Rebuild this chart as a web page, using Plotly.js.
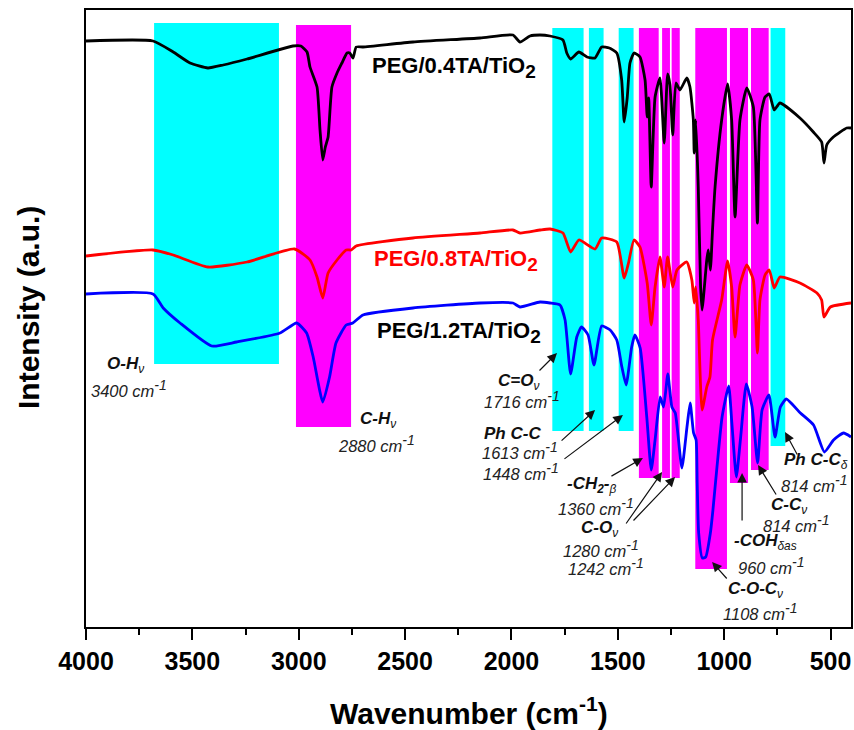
<!DOCTYPE html>
<html>
<head>
<meta charset="utf-8">
<script src="https://cdn.plot.ly/plotly-3.0.1.min.js"></script>
<style>html,body{margin:0;padding:0;background:#fff;}#chart{width:854px;height:730px;}</style>
</head>
<body>
<div id="chart"></div>
<script>
// ---- Data (wavenumber in cm-1, intensity in arbitrary units, offset spectra) ----
const seriesNames = ["PEG/0.4TA/TiO2", "PEG/0.8TA/TiO2", "PEG/1.2TA/TiO2"];

const wnBlack = [4000,3685,3590,3511,3427,3355,3243,3027,2990,2961,2947,2914,2900,2887,2875,2862,2844,2820,2797,2773,2760,2745,2730,2698,2463,2148,1993,1960,1913,1866,1819,1758,1740,1722,1683,1645,1607,1576,1540,1505,1482,1470,1456,1443,1424,1396,1372,1362,1355,1343,1325,1302,1282,1266,1255,1242,1227,1208,1176,1161,1145,1141,1134,1122,1111,1104,1082,1075,1065,1055,1043,1012,984,965,949,926,894,863,844,832,808,788,765,738,644,581,542,531,518,487,424,404];
const intBlack = [586,586,575,564,559,562,568,581,581,575,560,540,497,467,480,490,540,554,564,574,574,569,580,580,585,589,592,585,591,592,591,587,574,568,575,570,569,580,579,574,547,505,529,564,574,570,547,510,529,440,530,549,484,553,542,492,544,537,549,540,507,474,507,440,340,317,367,377,357,397,440,507,543,507,410,507,539,520,404,507,530,533,517,524,509,495,485,464,482,490,499,499];

const wnRed = [4000,3685,3590,3427,3243,3020,2947,2914,2887,2862,2820,2777,2753,2730,2463,2148,1993,1960,1866,1819,1758,1722,1683,1607,1576,1505,1470,1450,1424,1396,1362,1343,1325,1302,1282,1266,1242,1222,1176,1152,1141,1134,1122,1104,1082,1067,1055,1012,984,965,949,926,894,863,844,832,808,788,765,738,644,564,542,531,501,404];
const intRed = [371,377,372,360,365,378,367,350,329,354,367,377,377,381,389,394,397,394,397,398,394,375,387,378,389,385,349,364,387,380,344,302,340,370,340,370,340,357,365,347,324,340,307,217,240,250,287,327,366,340,290,342,362,347,274,327,352,357,339,350,344,334,327,310,320,324];

const wnBlue = [4000,3685,3637,3558,3409,3292,3088,3010,2963,2932,2887,2855,2825,2777,2746,2698,2463,2148,1993,1960,1866,1819,1772,1748,1722,1693,1671,1640,1612,1576,1536,1505,1481,1461,1435,1420,1395,1364,1343,1325,1301,1285,1265,1246,1230,1199,1175,1160,1144,1132,1127,1120,1103,1087,1065,1053,1034,1010,979,964,943,924,896,869,843,822,790,761,736,708,642,580,529,486,439,404];
const intBlue = [333,333,319,304,281,285,294,304,294,270,225,250,284,302,304,312,319,324,324,320,325,324,322,307,253,290,300,292,262,301,297,287,260,242,280,292,279,210,157,187,230,220,253,220,214,159,200,224,194,187,144,94,69,70,94,117,160,210,241,204,150,187,243,220,164,217,232,190,220,228,214,202,175,187,194,190];

// highlighted assignment bands (wavenumber range, vertical extent in intensity units, group)
const bandFrom   = [3680,3013,1808,1636,1496,1401,1292,1247,1136,973,874,782];
const bandTo     = [3093,2754,1661,1567,1426,1308,1255,1209,987,888,791,713];
const bandTop    = [604,602,599,599,599,599,599,599,599,599,599,599];
const bandBottom = [263,200,196,196,196,149,149,149,58,144,157,181];
const bandGroup  = ["c","m","c","c","c","m","m","m","m","m","m","c"];

const xTickVals = [4000,3500,3000,2500,2000,1500,1000,500];

// ---- Styles ----
const FONT = "Liberation Sans, Arial, sans-serif";
const groupColor = {c: "#00ffff", m: "#ff00ff"};
const lineColors = ["#000000", "#ff0000", "#0000ff"];

const traces = [
  {x: wnBlack, y: intBlack, name: seriesNames[0]},
  {x: wnRed, y: intRed, name: seriesNames[1]},
  {x: wnBlue, y: intBlue, name: seriesNames[2]}
].map((t, i) => Object.assign(t, {
  type: "scatter", mode: "lines",
  line: {color: lineColors[i], width: 2.8, shape: "spline", smoothing: 0.5},
  hoverinfo: "skip", showlegend: false
}));

const shapes = bandFrom.map((f, i) => ({
  type: "rect", xref: "x", yref: "y", layer: "below",
  x0: f, x1: bandTo[i], y0: bandBottom[i], y1: bandTop[i],
  fillcolor: groupColor[bandGroup[i]], line: {width: 0}
}));

// text labels (left-anchored)
const nameFont = {family: FONT, size: 17, color: "#111"};
const numFont = {family: FONT, size: 16.5, color: "#222"};
const sup1 = '<sup><span style="font-size:14px">-1</span></sup>';
function lab(text, x, y, font) {
  return {text: text, x: x, y: y, xref: "x", yref: "y", xanchor: "left", yanchor: "middle",
          showarrow: false, font: font};
}
function num(v, x, y) { return lab("<i>" + v + " cm" + sup1 + "</i>", x, y, numFont); }
function arrow(x, y, ax, ay) {
  return {text: "", x: x, y: y, xref: "x", yref: "y", ax: ax, ay: ay, showarrow: true,
          arrowhead: 2, arrowsize: 1.6, arrowwidth: 1.2, arrowcolor: "#111", standoff: 0, startstandoff: 0};
}
const sub2 = '<sub><span style="font-size:19px">2</span></sub>';
const annotations = [
  // series labels
  {text: "<b>PEG/0.4TA/TiO" + sub2 + "</b>", x: 2665, y: 560, xref: "x", yref: "y", xanchor: "left", yanchor: "middle", showarrow: false, font: {family: FONT, size: 22, color: "#000"}},
  {text: "<b>PEG/0.8TA/TiO" + sub2 + "</b>", x: 2655, y: 367, xref: "x", yref: "y", xanchor: "left", yanchor: "middle", showarrow: false, font: {family: FONT, size: 22, color: "#ff0000"}},
  {text: "<b>PEG/1.2TA/TiO" + sub2 + "</b>", x: 2642, y: 295, xref: "x", yref: "y", xanchor: "left", yanchor: "middle", showarrow: false, font: {family: FONT, size: 22, color: "#000"}},
  // assignments
  lab("<b><i>O-H</i></b><sub><i>ν</i></sub>", 3911, 262, nameFont),
  num(3400, 3985, 239),
  lab("<b><i>C-H</i></b><sub><i>ν</i></sub>", 2721, 207, nameFont),
  num(2880, 2825, 184),
  lab("<b><i>C=O</i></b><sub><i>ν</i></sub>", 2075, 245, nameFont),
  num(1716, 2140, 228),
  lab("<b><i>Ph C-C</i></b>", 2138, 194, nameFont),
  num(1613, 2150, 177),
  num(1448, 2145, 156),
  lab("<b><i>-CH<sub>2</sub>-</i></b><sub><i>β</i></sub>", 1750, 142, nameFont),
  num(1360, 1790, 121),
  lab("<b><i>C-O</i></b><sub><i>ν</i></sub>", 1682, 98, nameFont),
  num(1280, 1765, 79),
  num(1242, 1745, 61),
  lab("<b><i>C-O-C</i></b><sub><i>ν</i></sub>", 990, 37, nameFont),
  num(1108, 1015, 16),
  lab("<b><i>-COH</i></b><sub><i>δas</i></sub>", 962, 85, nameFont),
  num(960, 945, 62),
  lab("<b><i>C-C</i></b><sub><i>ν</i></sub>", 788, 121, nameFont),
  num(814, 826, 104),
  lab("<b><i>Ph C-C</i></b><sub><i>δ</i></sub>", 727, 166, nameFont),
  num(814, 742, 144),
  // arrows (head at feature, tail offset in px)
  arrow(1786, 274, -19, 19),
  arrow(1607, 217, -35, 32),
  arrow(1476, 212, -60, 45),
  arrow(1382, 169, -33, 19),
  arrow(1292, 155, -37, 53),
  arrow(1231, 150, -43, 45),
  arrow(1057, 65, 16, 18),
  arrow(916, 154, 0, 49),
  arrow(841, 162, 19, 31),
  arrow(714, 195, 13, 24),
  // axis titles
  {text: "<b>Wavenumber (cm<sup>-1</sup>)</b>", xref: "paper", yref: "paper", x: 0.5, y: -0.136,
   xanchor: "center", yanchor: "middle", showarrow: false, font: {family: FONT, size: 30, color: "#000"}},
  {text: "<b>Intensity (a.u.)</b>", xref: "paper", yref: "paper", x: -0.0758, y: 0.517, textangle: -90,
   xanchor: "center", yanchor: "middle", showarrow: false, font: {family: FONT, size: 30, color: "#000"}}
];

const layout = {
  width: 854, height: 730,
  margin: {l: 86, r: 3, t: 10, b: 103},
  paper_bgcolor: "#fff", plot_bgcolor: "#fff",
  showlegend: false,
  xaxis: {
    range: [4000, 404], autorange: false,
    tickvals: xTickVals, ticktext: xTickVals.map(String),
    ticks: "outside", ticklen: 11, tickwidth: 2, tickcolor: "#000",
    minor: {dtick: 250, tick0: 0, ticks: "outside", ticklen: 6, tickwidth: 2, tickcolor: "#000"},
    showline: true, linecolor: "#000", linewidth: 2, mirror: true,
    showgrid: false, zeroline: false,
    tickfont: {family: FONT, size: 25, color: "#000", weight: "bold"}
  },
  yaxis: {
    range: [0, 617], autorange: false,
    showticklabels: false, ticks: "",
    showline: true, linecolor: "#000", linewidth: 2, mirror: true,
    showgrid: false, zeroline: false
  },
  shapes: shapes,
  annotations: annotations
};

Plotly.newPlot("chart", traces, layout, {displayModeBar: false, staticPlot: true});
</script>
</body>
</html>
